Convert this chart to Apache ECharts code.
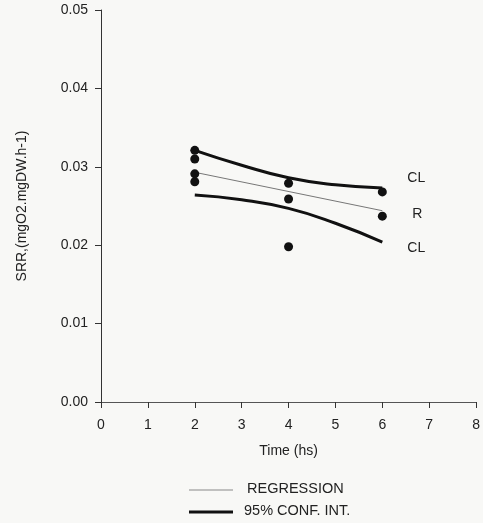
<!DOCTYPE html>
<html>
<head>
<meta charset="utf-8">
<script src="https://cdn.jsdelivr.net/npm/echarts@6/dist/echarts.min.js"></script>
<style>html,body{margin:0;padding:0;background:#f8f8f6;}#c{width:483px;height:523px;}</style>
</head>
<body>
<div id="c"></div>
<script>
// Observed points (Time hs, SRR)
const obsX = [2, 2, 2, 2, 4, 4, 4, 6, 6];
const obsY = [0.0321, 0.0310, 0.0291, 0.0281, 0.0279, 0.0259, 0.0198, 0.0268, 0.0237];
// Regression line
const regX = [2, 6];
const regY = [0.0293, 0.0244];
// Confidence limits
const clX = [2, 3, 4, 5, 6];
const clUpper = [0.0321, 0.0302, 0.0286, 0.0277, 0.0273];
const clLower = [0.0264, 0.0258, 0.0247, 0.0228, 0.0204];
const xTicks = [0, 1, 2, 3, 4, 5, 6, 7, 8];
const yTicks = ['0.00', '0.01', '0.02', '0.03', '0.04', '0.05'];

const pair = (xs, ys) => xs.map((x, i) => [x, ys[i]]);
const font = 'Liberation Sans, Arial, sans-serif';
const chart = echarts.init(document.getElementById('c'), null, {renderer: 'canvas'});
chart.setOption({
  backgroundColor: '#f8f8f6',
  animation: false,
  grid: {left: 101, right: 2, top: 10, bottom: 121},
  xAxis: [{
    type: 'value', min: 0, max: 8, interval: 1,
    name: 'Time (hs)', nameLocation: 'middle', nameGap: 42,
    nameTextStyle: {fontFamily: font, fontSize: 14, color: '#222'},
    axisLine: {onZero: false, lineStyle: {color: '#333', width: 1}},
    axisTick: {show: true, length: 6, inside: false, lineStyle: {color: '#333'}},
    axisLabel: {fontFamily: font, fontSize: 14, color: '#222', margin: 16,
      formatter: v => xTicks.indexOf(v) >= 0 ? String(v) : ''},
    splitLine: {show: false}
  }, {
    type: 'value', min: 0, max: 8, position: 'top',
    axisLine: {show: true, lineStyle: {color: '#555', width: 1}},
    axisTick: {show: false}, axisLabel: {show: false}, splitLine: {show: false}
  }],
  yAxis: {
    type: 'value', min: 0, max: 0.05, interval: 0.01,
    name: 'SRR,(mgO2.mgDW.h-1)', nameLocation: 'middle', nameGap: 72,
    nameTextStyle: {fontFamily: font, fontSize: 14, color: '#222'},
    axisLine: {show: true, onZero: false, lineStyle: {color: '#333', width: 1}},
    axisTick: {show: true, length: 6, lineStyle: {color: '#333'}},
    axisLabel: {fontFamily: font, fontSize: 14, color: '#222', margin: 13,
      formatter: v => yTicks[Math.round(v * 100)]},
    splitLine: {show: false}
  },
  series: [
    {type: 'line', name: 'CL upper', data: pair(clX, clUpper), smooth: true, symbol: 'none',
      lineStyle: {color: '#111', width: 3},
      endLabel: {show: true, formatter: 'CL', offset: [17, -10], fontFamily: font, fontSize: 14, color: '#222'}},
    {type: 'line', name: 'CL lower', data: pair(clX, clLower), smooth: true, symbol: 'none',
      lineStyle: {color: '#111', width: 3},
      endLabel: {show: true, formatter: 'CL', offset: [17, 6], fontFamily: font, fontSize: 14, color: '#222'}},
    {type: 'line', name: 'R', data: pair(regX, regY), symbol: 'none',
      lineStyle: {color: '#777', width: 1},
      endLabel: {show: true, formatter: 'R', offset: [22, 3], fontFamily: font, fontSize: 14, color: '#222'}},
    {type: 'scatter', name: 'obs', data: pair(obsX, obsY), symbol: 'circle', symbolSize: 9,
      itemStyle: {color: '#111', opacity: 1}, z: 5}
  ],
  graphic: [
    {type: 'line', shape: {x1: 189, y1: 490, x2: 233, y2: 490}, style: {stroke: '#888', lineWidth: 1}},
    {type: 'line', shape: {x1: 189, y1: 512, x2: 233, y2: 512}, style: {stroke: '#111', lineWidth: 3}},
    {type: 'text', left: 247, top: 481, style: {text: 'REGRESSION', font: '14.5px ' + font, fill: '#222'}},
    {type: 'text', left: 244, top: 503, style: {text: '95% CONF. INT.', font: '14.5px ' + font, fill: '#222'}}
  ]
});
</script>
</body>
</html>
